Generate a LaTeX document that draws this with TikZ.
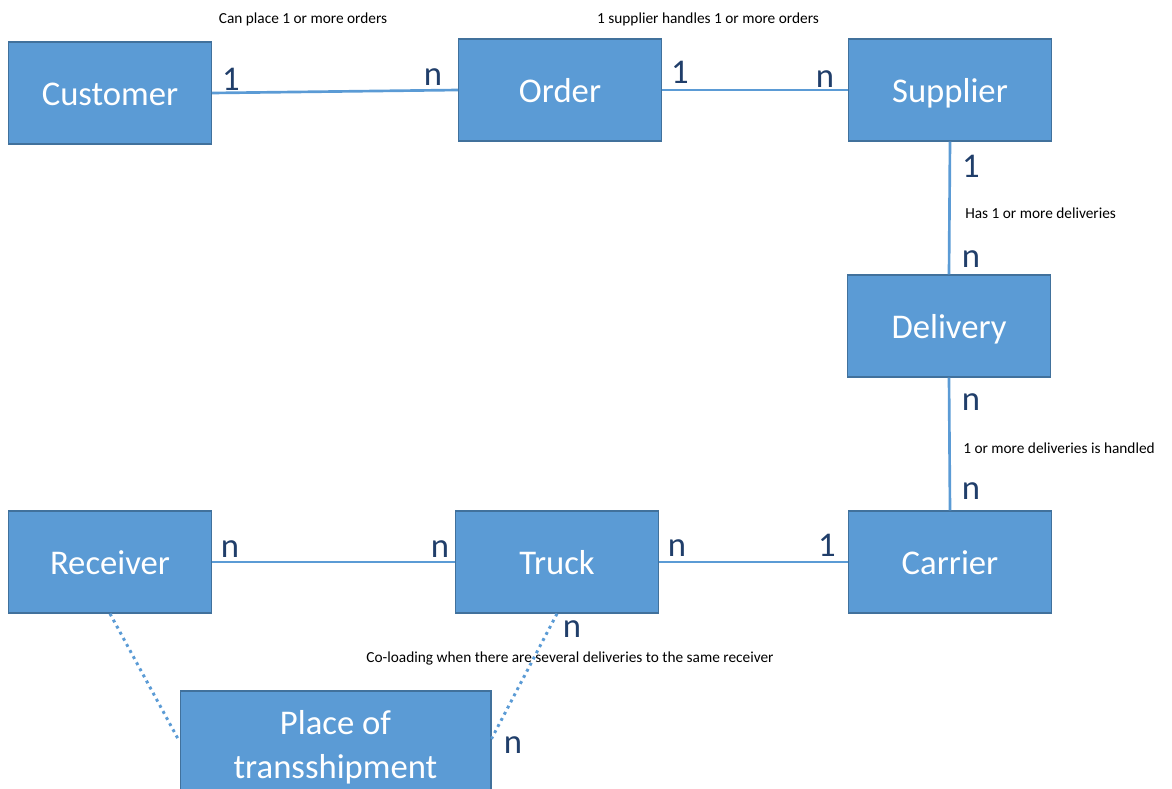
\documentclass[tikz,border=0pt]{standalone}
\usepackage{fontspec}
\setmainfont{Carlito}
\definecolor{boxfill}{HTML}{5B9BD5}
\definecolor{boxline}{HTML}{41719C}
\definecolor{cardtext}{HTML}{203E6A}
\tikzset{
  boxbase/.style={draw=boxline, line width=1pt, fill=boxfill, text=white, inner sep=0pt,
    font=\fontsize{26}{33}\selectfont},
  entity/.style={boxbase, minimum width=152pt, minimum height=76.5pt, text height=20pt, text depth=2pt},
  placebox/.style={boxbase, align=center, minimum width=233pt, minimum height=84pt},
  link/.style={draw=boxfill, line width=2pt},
  dotlink/.style={draw=boxfill, line width=2.2pt, dash pattern=on 2.2pt off 3pt},
  card/.style={text=cardtext, font=\fontsize{26}{32}\selectfont, anchor=base, inner sep=0pt},
  note/.style={font=\fontsize{11.5}{14}\selectfont, anchor=base, inner sep=0pt}
}
\begin{document}
\begin{tikzpicture}[x=0.75pt,y=-0.75pt]
\useasboundingbox (0,0) rectangle (1172,789);
\clip (0,0) rectangle (1172,789);
% entities
\node[entity] (customer) at (110,93) {Customer};
\node[entity] (order) at (560,90) {Order};
\node[entity] (supplier) at (950,90) {Supplier};
\node[entity] (delivery) at (949,326) {Delivery};
\node[entity] (receiver) at (110,562) {Receiver};
\node[entity] (truck) at (557,562) {Truck};
\node[entity] (carrier) at (950,562) {Carrier};
\node[placebox] (place) at (335.5,747) {Place of\\transshipment};
% relations
\draw[link] (customer.east) -- (order.west);
\draw[link] (order.east) -- (supplier.west);
\draw[link] (supplier.south) -- (delivery.north);
\draw[link] (delivery.south) -- (carrier.north);
\draw[link] (receiver.east) -- (truck.west);
\draw[link] (truck.east) -- (carrier.west);
\draw[dotlink] (receiver.south) -- (place.178);
\draw[dotlink] (truck.south) -- (place.3);
% cardinalities
\node[card] (c1) at (231,90) {1};
\node[card] (c2) at (433,85) {n};
\node[card] (c3) at (680,83) {1};
\node[card] (c4) at (825,87) {n};
\node[card] (c5) at (971,177) {1};
\node[card] (c6) at (971,267) {n};
\node[card] (c7) at (971,410) {n};
\node[card] (c8) at (971,499) {n};
\node[card] (c9) at (230,557) {n};
\node[card] (c10) at (440,557) {n};
\node[card] (c11) at (677,556) {n};
\node[card] (c12) at (827,556) {1};
\node[card] (c13) at (572,637) {n};
\node[card] (c14) at (513,753) {n};
% notes
\node[note] (n1) at (303,23) {Can place 1 or more orders};
\node[note] (n2) at (708,23) {1 supplier handles 1 or more orders};
\node[note,anchor=base west] (n3) at (965,218) {Has 1 or more deliveries};
\node[note,anchor=base west] (n4) at (963,453) {1 or more deliveries is handled};
\node[note] (n5) at (570,662) {Co-loading when there are several deliveries to the same receiver};
\end{tikzpicture}
\end{document}
